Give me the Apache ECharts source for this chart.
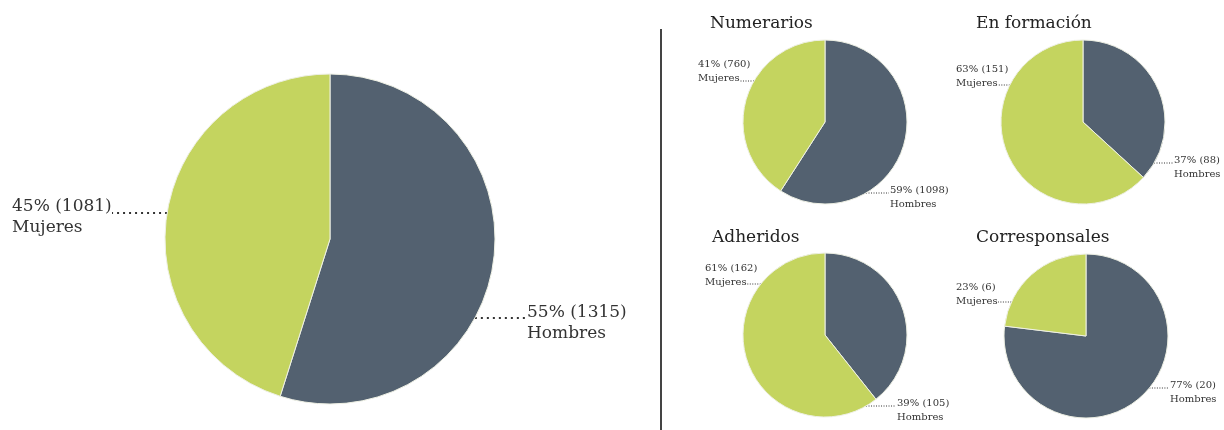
<!DOCTYPE html>
<html><head><meta charset="utf-8">
<script src="https://cdn.jsdelivr.net/npm/echarts@6/dist/echarts.min.js"></script>
<style>html,body{margin:0;padding:0;background:#fff}#c{width:1224px;height:430px}</style>
</head><body><div id="c"></div>
<script>
// ---- data ----
const sliceNames = ['Hombres', 'Mujeres'];
const totalValues = [1315, 1081];
const pieTitles = ['Numerarios', 'En formación', 'Adheridos', 'Corresponsales'];
const numerariosValues = [1098, 760];
const enFormacionValues = [88, 151];
const adheridosValues = [105, 162];
const corresponsalesValues = [20, 6];

// ---- styles / layout ----
const COLORS = ['#536170', '#c4d45f'];
const FONT = 'DejaVu Serif';
const layouts = [
  {center: [330, 239], r: 165, fs: 17, lh: 21, lw: 2, dash: [2, 4],
   labels: [{x: 527, top: 302.5, lineY: 318, lineX: 525}, {x: 12, top: 196.5, lineY: 213, lineX: 112}]},
  {center: [825, 122], r: 82, fs: 10, lh: 13.5, lw: 1, dash: [1, 1.5],
   labels: [{x: 890, top: 184, lineY: 193, lineX: 889}, {x: 698, top: 58, lineY: 81, lineX: 740}]},
  {center: [1083, 122], r: 82, fs: 10, lh: 13.5, lw: 1, dash: [1, 1.5],
   labels: [{x: 1174, top: 154, lineY: 163, lineX: 1173}, {x: 956, top: 63, lineY: 85, lineX: 998}]},
  {center: [825, 335], r: 82, fs: 10, lh: 13.5, lw: 1, dash: [1, 1.5],
   labels: [{x: 897, top: 397, lineY: 406, lineX: 896}, {x: 705, top: 262, lineY: 284, lineX: 747}]},
  {center: [1086, 336], r: 82, fs: 10, lh: 13.5, lw: 1, dash: [1, 1.5],
   labels: [{x: 1170, top: 379, lineY: 388, lineX: 1169}, {x: 956, top: 281, lineY: 302, lineX: 998}]}
];
const titlePos = [[710, 15], [976, 15], [712, 229], [976, 229]];

const allValues = [totalValues, numerariosValues, enFormacionValues, adheridosValues, corresponsalesValues];

function makeSeries(values, i) {
  const L = layouts[i];
  return {
    type: 'pie',
    center: L.center,
    radius: L.r,
    startAngle: 90,
    clockwise: true,
    percentPrecision: 0,
    avoidLabelOverlap: false,
    silent: true,
    animation: false,
    data: values.map((v, k) => ({name: sliceNames[k], value: v, itemStyle: {color: COLORS[k]}})),
    itemStyle: {borderColor: '#eef0e4', borderWidth: 1},
    label: {
      show: true,
      position: 'outside',
      formatter: p => p.percent + '% (' + p.value + ')\n' + p.name,
      fontFamily: FONT,
      fontSize: L.fs,
      lineHeight: L.lh,
      color: '#333'
    },
    labelLine: {show: true, length: 5, length2: 5, lineStyle: {color: '#333', width: L.lw, type: L.dash}},
    labelLayout: function (params) {
      const lab = L.labels[params.dataIndex];
      const side = lab.x > L.center[0] ? 1 : -1;
      const dy = lab.lineY - L.center[1];
      const ex = L.center[0] + side * Math.sqrt(Math.max(0, L.r * L.r - dy * dy));
      return {
        x: lab.x, y: lab.top, align: 'left', verticalAlign: 'top',
        labelLinePoints: [[ex, lab.lineY], [lab.lineX, lab.lineY]]
      };
    },
    emphasis: {disabled: true}
  };
}

const chart = echarts.init(document.getElementById('c'), null, {renderer: 'canvas'});
chart.setOption({
  backgroundColor: '#fff',
  animation: false,
  title: pieTitles.map((t, i) => ({
    text: t, left: titlePos[i][0], top: titlePos[i][1], padding: 0,
    textStyle: {fontFamily: FONT, fontSize: 17, fontWeight: 'normal', color: '#222'}
  })),
  graphic: [{type: 'line', shape: {x1: 661, y1: 29, x2: 661, y2: 430}, style: {stroke: '#444', lineWidth: 2}}],
  series: allValues.map(makeSeries)
});
</script>
</body></html>
